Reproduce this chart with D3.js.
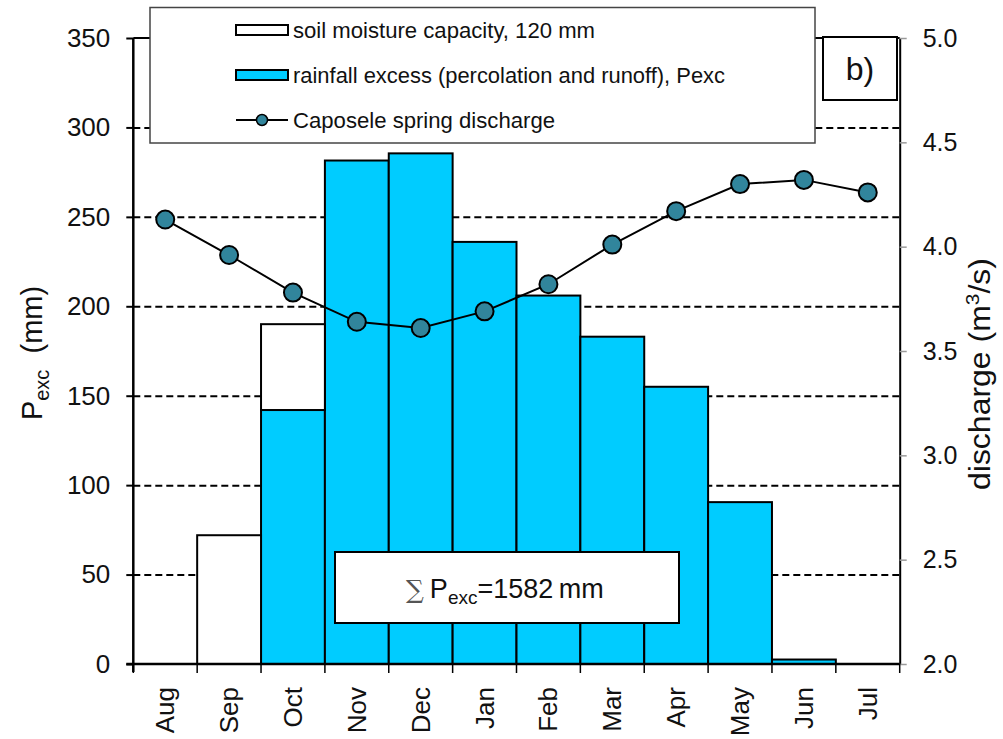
<!DOCTYPE html>
<html>
<head>
<meta charset="utf-8">
<script src="https://cdn.jsdelivr.net/npm/d3@7"></script>
<style>
  html, body { margin: 0; padding: 0; background: #fff; }
  svg { display: block; font-family: "Liberation Sans", Arial, sans-serif; }
</style>
</head>
<body>
<svg id="chart" width="1003" height="739"></svg>
<script>
// Monthly water balance: rainfall excess, soil moisture refill and spring discharge
const months = ["Aug", "Sep", "Oct", "Nov", "Dec", "Jan", "Feb", "Mar", "Apr", "May", "Jun", "Jul"];
const pexc = [0, 0, 142, 281.5, 285.5, 236, 206, 183, 155, 90.5, 2.5, 0];          // mm
const soilMoisture = [0, 72, 48, 0, 0, 0, 0, 0, 0, 0, 0, 0];                        // mm
const discharge = [4.13, 3.96, 3.78, 3.64, 3.61, 3.69, 3.82, 4.01, 4.17, 4.30, 4.32, 4.26]; // m3/s
const leftTicks = [0, 50, 100, 150, 200, 250, 300, 350];
const rightTicks = [2.0, 2.5, 3.0, 3.5, 4.0, 4.5, 5.0];
const legendLabels = ["soil moisture capacity, 120 mm", "rainfall excess (percolation and runoff), Pexc", "Caposele spring discharge"];
const totalPexc = 1582;

const svg = d3.select("#chart");
const x0 = 133.3, x1 = 899.7, yTop = 38, yBot = 664;

const x = d3.scaleBand().domain(months).range([x0, x1]).padding(0);
const yL = d3.scaleLinear().domain([0, 350]).range([yBot, yTop]);
const yR = d3.scaleLinear().domain([2, 5]).range([yBot, yTop]);

const BLUE = "#00CCFF", TEAL = "#31859C";

// dashed horizontal gridlines (left-axis values)
const grid = svg.append("g").attr("transform", `translate(${x0},0)`)
  .call(d3.axisLeft(yL).tickValues(leftTicks.filter(v => v > 0 && v < 350))
    .tickSize(-(x1 - x0)).tickFormat(""));
grid.select(".domain").remove();
grid.selectAll("line").attr("stroke", "#000").attr("stroke-width", 2)
  .attr("stroke-dasharray", "7,4");

// stacked bars: rainfall excess at the bottom, soil moisture refill on top
const table = months.map((m, i) => ({ month: m, pexc: pexc[i], soil: soilMoisture[i] }));
const series = d3.stack().keys(["pexc", "soil"])(table);
const fills = { pexc: BLUE, soil: "#fff" };
svg.append("g").selectAll("g").data(series).join("g")
  .attr("fill", d => fills[d.key])
  .selectAll("rect").data(d => d.filter(s => s[1] - s[0] > 0)).join("rect")
  .attr("x", d => x(d.data.month))
  .attr("width", x.bandwidth())
  .attr("y", d => yL(d[1]))
  .attr("height", d => yL(d[0]) - yL(d[1]))
  .attr("stroke", "#000").attr("stroke-width", 2);

// top border
svg.append("line").attr("x1", x0).attr("x2", x1).attr("y1", yTop).attr("y2", yTop)
  .attr("stroke", "#000").attr("stroke-width", 2);

// left axis
const axL = svg.append("g").attr("transform", `translate(${x0},0)`)
  .call(d3.axisLeft(yL).tickValues(leftTicks).tickSize(7).tickPadding(16).tickSizeOuter(0));
axL.select(".domain").attr("stroke", "#000").attr("stroke-width", 2.5)
  .attr("d", `M0,${yTop}V${yBot + 8}`);
axL.selectAll(".tick line").attr("stroke", "#000").attr("stroke-width", 2);
axL.selectAll("text").attr("font-size", 26).attr("fill", "#111").attr("font-family", "Liberation Sans, Arial, sans-serif");

// right axis
const axR = svg.append("g").attr("transform", `translate(${x1},0)`)
  .call(d3.axisRight(yR).tickValues(rightTicks).tickSize(7).tickPadding(16).tickSizeOuter(0)
    .tickFormat(d3.format(".1f")));
axR.select(".domain").attr("stroke", "#000").attr("stroke-width", 2);
axR.selectAll(".tick line").attr("stroke", "#999").attr("stroke-width", 1.5);
axR.selectAll("text").attr("font-size", 25).attr("fill", "#111").attr("font-family", "Liberation Sans, Arial, sans-serif");

// bottom axis: ticks on band boundaries, rotated month names
const axB = svg.append("g").attr("transform", `translate(0,${yBot})`);
axB.append("line").attr("x1", x0 - 7).attr("x2", x1).attr("stroke", "#000").attr("stroke-width", 2.5);
const bounds = months.map(m => x(m)).concat([x1]);
axB.selectAll(".bt").data(bounds).join("line").attr("class", "bt")
  .attr("x1", d => d).attr("x2", d => d).attr("y1", 0).attr("y2", 9)
  .attr("stroke", "#000").attr("stroke-width", 1.5);
axB.selectAll(".ml").data(months).join("text").attr("class", "ml")
  .attr("transform", d => `translate(${x(d) + x.bandwidth() / 2 + 9},${23}) rotate(-90)`)
  .attr("text-anchor", "end").attr("font-size", 26).attr("fill", "#111")
  .text(d => d);

// discharge line with markers
const line = d3.line().x((d, i) => x(months[i]) + x.bandwidth() / 2).y(d => yR(d));
svg.append("path").datum(discharge).attr("d", line)
  .attr("fill", "none").attr("stroke", "#000").attr("stroke-width", 2);
svg.append("g").selectAll("circle").data(discharge).join("circle")
  .attr("cx", (d, i) => x(months[i]) + x.bandwidth() / 2)
  .attr("cy", d => yR(d)).attr("r", 9)
  .attr("fill", TEAL).attr("stroke", "#000").attr("stroke-width", 2);

// legend
const lg = svg.append("g");
lg.append("rect").attr("x", 150).attr("y", 7.5).attr("width", 665).attr("height", 135.5)
  .attr("fill", "#fff").attr("stroke", "#444").attr("stroke-width", 1.5);
const rowsY = [30, 75, 120];
lg.append("rect").attr("x", 236).attr("y", rowsY[0] - 5).attr("width", 52).attr("height", 10)
  .attr("fill", "#fff").attr("stroke", "#000").attr("stroke-width", 2);
lg.append("rect").attr("x", 236).attr("y", rowsY[1] - 5).attr("width", 52).attr("height", 10)
  .attr("fill", BLUE).attr("stroke", "#000").attr("stroke-width", 2);
lg.append("line").attr("x1", 236).attr("x2", 288).attr("y1", rowsY[2]).attr("y2", rowsY[2])
  .attr("stroke", "#000").attr("stroke-width", 2);
lg.append("circle").attr("cx", 262).attr("cy", rowsY[2]).attr("r", 5.5)
  .attr("fill", TEAL).attr("stroke", "#000").attr("stroke-width", 1.5);
const legendWidths = [302, 432, 262];
lg.selectAll(".lt").data(legendLabels).join("text").attr("class", "lt")
  .attr("x", 293).attr("y", (d, i) => rowsY[i] + 8)
  .attr("font-size", 22).attr("fill", "#111")
  .attr("textLength", (d, i) => legendWidths[i]).attr("lengthAdjust", "spacingAndGlyphs")
  .text(d => d);

// panel label
svg.append("rect").attr("x", 823).attr("y", 37).attr("width", 74).attr("height", 63)
  .attr("fill", "#fff").attr("stroke", "#000").attr("stroke-width", 2);
svg.append("text").attr("x", 860).attr("y", 80).attr("text-anchor", "middle")
  .attr("font-size", 32).attr("fill", "#111").text("b)");

// total rainfall excess box
svg.append("rect").attr("x", 335).attr("y", 552).attr("width", 344).attr("height", 71)
  .attr("fill", "#fff").attr("stroke", "#000").attr("stroke-width", 2);
const sumT = svg.append("text").attr("x", 406).attr("y", 598).attr("font-size", 27).attr("fill", "#111");
sumT.append("tspan").attr("fill", "#555").attr("font-family", "DejaVu Serif, serif").attr("font-size", 25).text("\u2211");
sumT.append("tspan").attr("dx", 6).text("P");
sumT.append("tspan").attr("font-size", 19).attr("dy", 6).text("exc");
sumT.append("tspan").attr("dy", -6).text("=" + totalPexc + "\u2009mm");

// axis titles
const tl = svg.append("text").attr("transform", "translate(42,353) rotate(-90)")
  .attr("text-anchor", "middle").attr("font-size", 29).attr("fill", "#111");
tl.append("tspan").text("P");
tl.append("tspan").attr("font-size", 20).attr("dy", 7).text("exc");
tl.append("tspan").attr("dy", -7).text("\u00a0\u00a0(mm)");

const tr = svg.append("text").attr("transform", "translate(990,374) rotate(-90)")
  .attr("text-anchor", "middle").attr("font-size", 29).attr("fill", "#111")
  .attr("textLength", 232).attr("lengthAdjust", "spacingAndGlyphs");
tr.append("tspan").text("discharge (m");
tr.append("tspan").attr("font-size", 19).attr("dy", -11).text("3");
tr.append("tspan").attr("dy", 11).text("/s)");
</script>
</body>
</html>
